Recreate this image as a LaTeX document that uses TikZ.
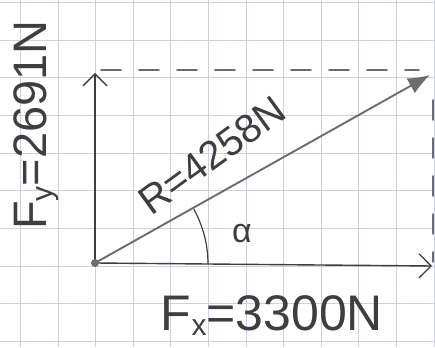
\documentclass[tikz,border=0pt]{standalone}
\usepackage{fontspec}
\setmainfont{Liberation Sans}
\usetikzlibrary{
  calc,
  arrows.meta
}
\definecolor{gridline}{RGB}{206,206,228}
\definecolor{pencil}{RGB}{62,62,62}
\definecolor{softpencil}{RGB}{108,108,108}
\tikzset{
  gridrule/.style={gridline, line width=0.9pt},
  component/.style={pencil, line width=1.4pt,
    -{Straight Barb[length=12pt,width=24pt,line width=1.3pt]}},
  resultant/.style={softpencil, line width=1.9pt, -{Latex[length=22pt,width=17pt]}},
  helper/.style={softpencil, line width=1.6pt, dash pattern=on 20pt off 18pt, line cap=round},
  handtext/.style={pencil, inner sep=0pt}
}

\begin{document}
\begin{tikzpicture}[x=1pt, y=1pt]

\useasboundingbox (0,0) rectangle (435,347);

% grid paper
\foreach \i in {0,...,11}
  \draw[gridrule] (20.5+37.6*\i,0) -- (20.5+37.6*\i,347);
\foreach \j in {0,...,9}
  \draw[gridrule] (0,344.7-37.7*\j) -- (435,344.7-37.7*\j);

% points
\coordinate (O)      at (95,84);
\coordinate (Fx)     at (432,81);
\coordinate (Fy)     at (95,274);
\coordinate (R)      at (430,272);
\coordinate (corner) at (433,277);

% dashed completion
\draw[helper] ($(Fy)+(6,3)$) -- ($(corner)+(-14,0)$);
\draw[helper] ($(corner)+(0,-30)$) -- ($(Fx)+(1,4)$);

% vectors
\draw[component] (O) -- (Fx);
\draw[component] (O) -- (Fy);
\draw[resultant] (O) -- (R);
\fill[softpencil] (O) circle (4pt);

% angle
\draw[pencil, line width=1.2pt] ($(O)+(113,-1)$) arc[start angle=0, end angle=29, radius=113];

% labels
\node[handtext, font=\fontsize{47}{47}\selectfont, rotate=90] (fylabel) at (36,222)
  {F{\fontsize{30}{30}\selectfont\raisebox{-6pt}{y}}=2691N};
\node[handtext, font=\fontsize{40}{40}\selectfont, rotate=36] (rlabel) at (212,192) {R=4258N};
\node[handtext, font=\fontsize{34}{34}\selectfont] (alphalabel) at (242,113) {α};
\node[handtext, font=\fontsize{50}{50}\selectfont] (fxlabel) at (272,31)
  {F{\fontsize{30}{30}\selectfont\raisebox{-5pt}{x}}=3300N};

\end{tikzpicture}
\end{document}
